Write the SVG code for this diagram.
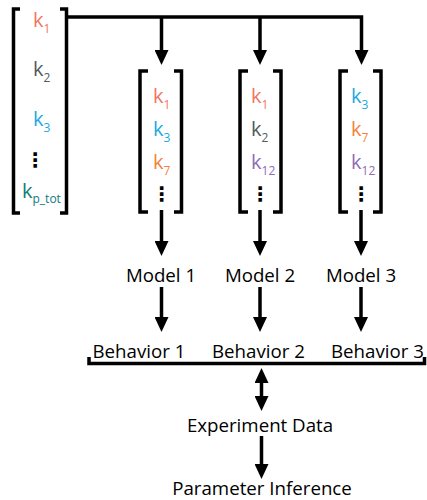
<svg xmlns="http://www.w3.org/2000/svg" width="427" height="500" viewBox="0 0 427 500">
  <style>
    .br { fill: none; stroke: #000; stroke-width: 3.5; stroke-linecap: butt; stroke-linejoin: miter; }
    .ln { fill: none; stroke: #000; stroke-width: 3.5; }
    .k { font-family: "Open Sans", "Noto Sans", sans-serif; font-size: 20px; }
    .sub { font-size: 12px; }
    .lbl { font-family: "Open Sans", "Noto Sans", sans-serif; font-size: 18.7px; fill: #000; text-anchor: middle; }
    .dots { font-family: "DejaVu Sans", sans-serif; font-weight: bold; font-size: 20px; fill: #000; text-anchor: middle; }
    .c1 { fill: #F37560; }
    .c2 { fill: #4F5B5B; }
    .c3 { fill: #1DA8E0; }
    .c7 { fill: #F5823A; }
    .c12 { fill: #8D6CB4; }
    .cp { fill: #0D7C7C; }
  </style>
  <defs>
    <marker id="head" viewBox="0 0 15 14" refX="1" refY="7" markerWidth="15" markerHeight="14" markerUnits="userSpaceOnUse" orient="auto-start-reverse">
      <path d="M0,0 L15,7 L0,14 z" fill="#000"/>
    </marker>
  </defs>

  <!-- full parameter vector -->
  <g id="param-vector">
    <path class="br" d="M20,9 H13.5 V213 H20"/>
    <path class="br" d="M60,9 H66.5 V213 H60"/>
    <text class="k c1" x="33" y="27">k<tspan class="sub" dy="6">1</tspan></text>
    <text class="k c2" x="33" y="76">k<tspan class="sub" dy="6">2</tspan></text>
    <text class="k c3" x="33" y="126">k<tspan class="sub" dy="6">3</tspan></text>
    <text class="dots" x="35" y="167">⋮</text>
    <text class="k cp" x="22" y="198">k<tspan class="sub" dy="5">p_tot</tspan></text>
  </g>

  <!-- parameter subsets -->
  <g id="subset-1">
    <path class="br" d="M148,71 H140 V212 H148"/>
    <path class="br" d="M174,71 H181.5 V212 H174"/>
    <text class="k c1" x="153" y="103">k<tspan class="sub" dy="6">1</tspan></text>
    <text class="k c3" x="153" y="136">k<tspan class="sub" dy="6">3</tspan></text>
    <text class="k c7" x="153" y="169">k<tspan class="sub" dy="6">7</tspan></text>
    <text class="dots" x="161.5" y="201">⋮</text>
  </g>
  <g id="subset-2">
    <path class="br" d="M248,71 H240 V212 H248"/>
    <path class="br" d="M273,71 H281 V212 H273"/>
    <text class="k c1" x="251" y="103">k<tspan class="sub" dy="6">1</tspan></text>
    <text class="k c2" x="251" y="136">k<tspan class="sub" dy="6">2</tspan></text>
    <text class="k c12" x="251" y="169">k<tspan class="sub" dy="6">12</tspan></text>
    <text class="dots" x="260" y="201">⋮</text>
  </g>
  <g id="subset-3">
    <path class="br" d="M348,71 H340 V212 H348"/>
    <path class="br" d="M373,71 H381 V212 H373"/>
    <text class="k c3" x="351" y="103">k<tspan class="sub" dy="6">3</tspan></text>
    <text class="k c7" x="351" y="136">k<tspan class="sub" dy="6">7</tspan></text>
    <text class="k c12" x="351" y="169">k<tspan class="sub" dy="6">12</tspan></text>
    <text class="dots" x="361" y="201">⋮</text>
  </g>

  <!-- models -->
  <g id="model-1"><text class="lbl" x="161" y="282">Model 1</text></g>
  <g id="model-2"><text class="lbl" x="260" y="282">Model 2</text></g>
  <g id="model-3"><text class="lbl" x="361" y="282">Model 3</text></g>

  <!-- behaviours -->
  <g id="behavior-1"><text class="lbl" x="139" y="358">Behavior 1</text></g>
  <g id="behavior-2"><text class="lbl" x="258.5" y="358">Behavior 2</text></g>
  <g id="behavior-3"><text class="lbl" x="377.5" y="358">Behavior 3</text></g>

  <g id="experiment-data"><text class="lbl" x="260" y="432">Experiment Data</text></g>
  <g id="parameter-inference"><text class="lbl" x="262" y="495">Parameter Inference</text></g>

  <!-- connectors -->
  <g id="connectors">
    <path class="ln" d="M66.5,17 H361.5 V51" marker-end="url(#head)"/>
    <path class="ln" d="M161.5,17 V51" marker-end="url(#head)"/>
    <path class="ln" d="M260,17 V51" marker-end="url(#head)"/>

    <path class="ln" d="M161.5,210 V242" marker-end="url(#head)"/>
    <path class="ln" d="M260,210 V242" marker-end="url(#head)"/>
    <path class="ln" d="M361,210 V242" marker-end="url(#head)"/>

    <path class="ln" d="M161.5,287 V318" marker-end="url(#head)"/>
    <path class="ln" d="M260,287 V318" marker-end="url(#head)"/>
    <path class="ln" d="M361,287 V318" marker-end="url(#head)"/>

    <path class="ln" d="M89,357 V363.5 H424.5 V357"/>
    <path class="ln" d="M261.5,382 V397" marker-start="url(#head)" marker-end="url(#head)"/>
    <path class="ln" d="M261.5,436 V465" marker-end="url(#head)"/>
  </g>
</svg>
